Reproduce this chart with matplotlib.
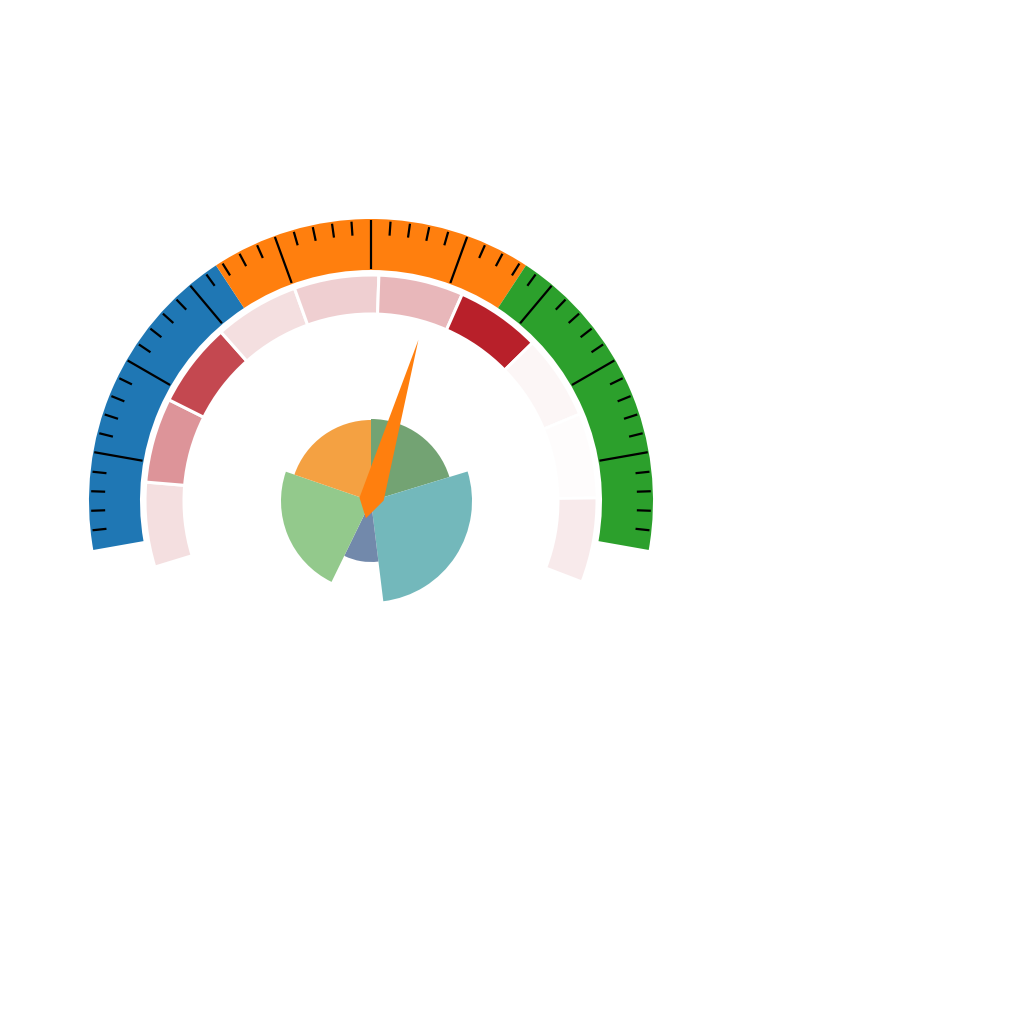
import numpy as np
import matplotlib
matplotlib.use("Agg")
import matplotlib.pyplot as plt
from matplotlib.patches import Wedge, Polygon

# -------------------------
# Gauge data
# -------------------------
gauge_min, gauge_max = 0, 100
start_deg, end_deg = 190, -10
band_edges = [0, 33.33, 66.67, 100]
band_colors = ["#1f77b4", "#ff7f0e", "#2ca02c"]
needle_value = 58.2

# inner ring: 10 equal segments, intensity of the red
ring_start, ring_end = 197, -21
ring_levels = [0.14, 0.48, 0.82, 0.14, 0.21, 0.32, 1.0, 0.04, 0.01, 0.09]
ring_base = "#b8202a"

# centre rose: span (degrees, clockwise from top) and radius
rose_spans = [73, 100, 33, 83, 71]
rose_radii = [82, 101, 61, 90, 81]
rose_colors = ["#73a373", "#73b8bb", "#7289ab", "#93c98c", "#f4a142"]

# -------------------------
# Geometry (canvas units)
# -------------------------
cx, cy = 371, 1024 - 501
band_r0, band_r1 = 231, 282
ring_r0, ring_r1 = 187, 226


def val_to_deg(v):
    return start_deg + (end_deg - start_deg) * (v - gauge_min) / (gauge_max - gauge_min)


fig = plt.figure(figsize=(10.24, 10.24), dpi=100)
ax = fig.add_axes([0, 0, 1, 1])
ax.set_xlim(0, 1024)
ax.set_ylim(0, 1024)
ax.set_aspect("equal")
ax.axis("off")

# outer coloured band
for i, col in enumerate(band_colors):
    a0 = val_to_deg(band_edges[i + 1])
    a1 = val_to_deg(band_edges[i])
    ax.add_patch(Wedge((cx, cy), band_r1, a0, a1, width=band_r1 - band_r0,
                       facecolor=col, edgecolor="none", zorder=1))

# ticks: minor every 2 units, major every 10
for v in np.arange(2, 100, 2):
    ang = np.radians(val_to_deg(v))
    if v % 10 == 0:
        r_in, r_out, lw = band_r0 + 1, band_r1 - 1, 1.6
    else:
        r_in, r_out, lw = band_r1 - 16, band_r1 - 2, 1.6
    ax.plot([cx + r_in * np.cos(ang), cx + r_out * np.cos(ang)],
            [cy + r_in * np.sin(ang), cy + r_out * np.sin(ang)],
            color="black", lw=lw, solid_capstyle="butt", zorder=2)

# inner segmented ring
base = matplotlib.colors.to_rgb(ring_base)
step = (ring_start - ring_end) / len(ring_levels)
for i, lvl in enumerate(ring_levels):
    a1 = ring_start - i * step
    a0 = a1 - step
    ax.add_patch(Wedge((cx, cy), ring_r1, a0, a1, width=ring_r1 - ring_r0,
                       facecolor=(*base, lvl), edgecolor="white", lw=2.2, zorder=3))

# centre rose
a = 90
for span, r, col in zip(rose_spans, rose_radii, rose_colors):
    ax.add_patch(Wedge((cx, cy), r, a - span, a, facecolor=col,
                       edgecolor="none", zorder=4))
    a -= span

# needle
ang = np.radians(val_to_deg(needle_value))
u = np.array([np.cos(ang), np.sin(ang)])
p = np.array([np.sin(ang), -np.cos(ang)])
c = np.array([cx, cy])
pts = [c + 168 * u, c + 4 * u + 12 * p, c - 18 * u, c - 12 * p]
ax.add_patch(Polygon(pts, closed=True, facecolor="#ff7f0e", edgecolor="none", zorder=5))

fig.savefig("out.png", dpi=100)
